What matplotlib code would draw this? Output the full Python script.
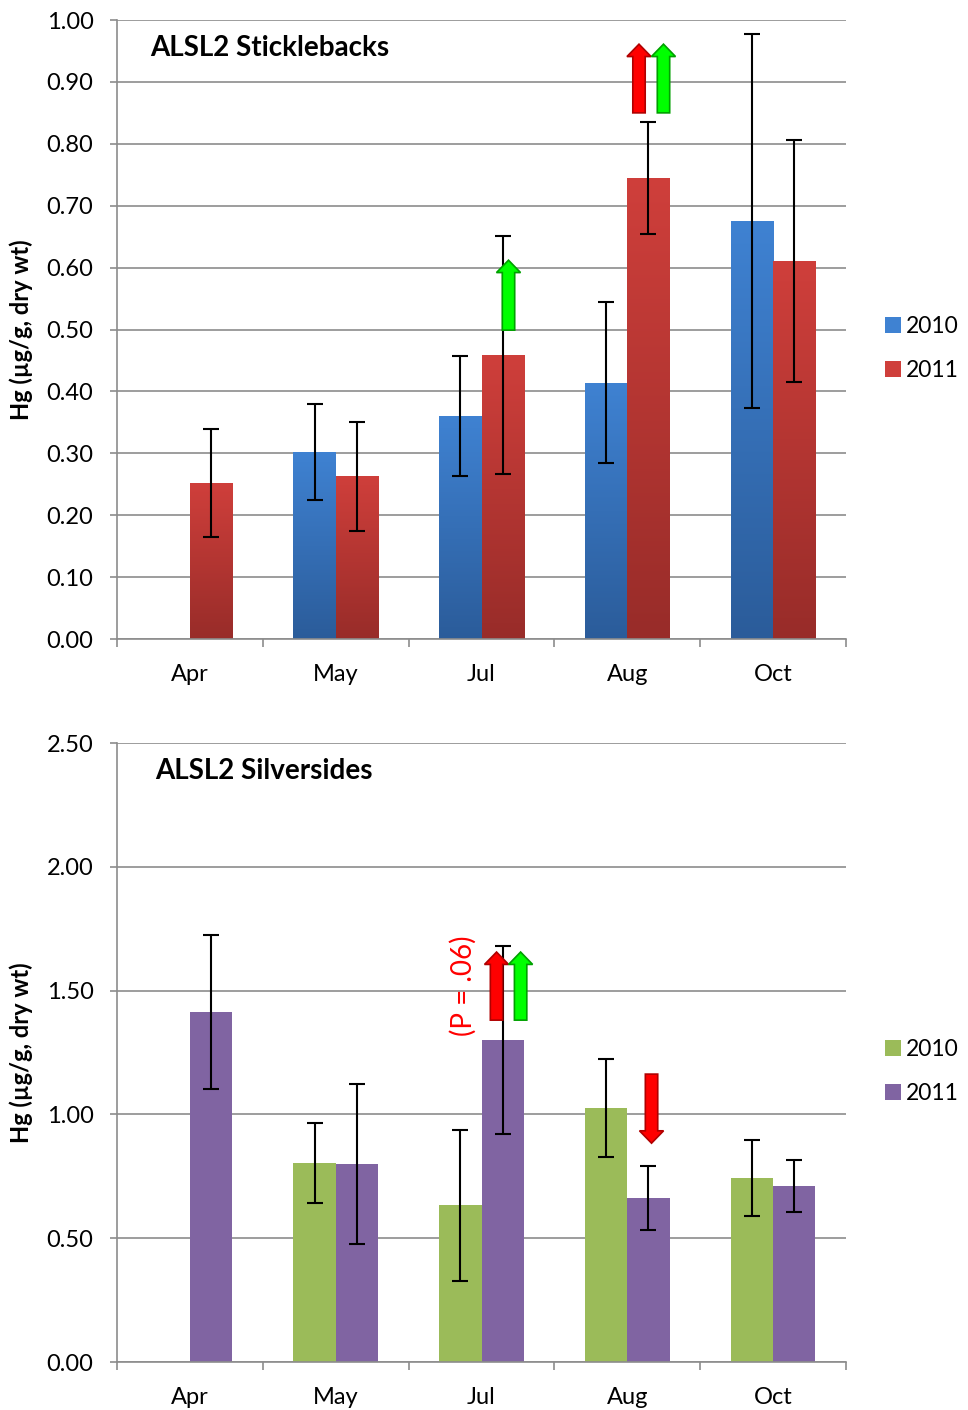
import matplotlib
matplotlib.use("Agg")
import matplotlib.pyplot as plt
import numpy as np
from matplotlib.colors import LinearSegmentedColormap
from matplotlib.patches import FancyArrow

plt.rcParams["font.family"] = ["Lato", "DejaVu Sans"]

months = ["Apr", "May", "Jul", "Aug", "Oct"]

# ALSL2 sticklebacks
stick_2010 = [0.0, 0.302, 0.360, 0.414, 0.675]
stick_2010_err = [0.0, 0.078, 0.097, 0.130, 0.302]
stick_2011 = [0.252, 0.263, 0.459, 0.745, 0.611]
stick_2011_err = [0.088, 0.088, 0.192, 0.090, 0.195]

# ALSL2 silversides
silv_2010 = [0.0, 0.804, 0.634, 1.026, 0.743]
silv_2010_err = [0.0, 0.160, 0.305, 0.196, 0.152]
silv_2011 = [1.414, 0.800, 1.300, 0.662, 0.711]
silv_2011_err = [0.310, 0.325, 0.380, 0.130, 0.105]

years = ["2010", "2011"]

W = 0.29
GRID = "#8c8c8c"
FS = 17


def gradient_bars(ax, x, h, top, bottom):
    cmap = LinearSegmentedColormap.from_list("g", [bottom, top])
    bars = ax.bar(x, h, W, color=top, linewidth=0)
    grad = np.linspace(0, 1, 256).reshape(-1, 1)
    for b in bars:
        if b.get_height() <= 0:
            continue
        x0, y0 = b.get_x(), b.get_y()
        im = ax.imshow(grad, cmap=cmap, origin="lower", aspect="auto",
                       extent=[x0, x0 + b.get_width(), y0, y0 + b.get_height()],
                       zorder=2)
        im.set_clip_path(b)
    return bars


def err(ax, x, v, e):
    xs = [a for a, b in zip(x, v) if b > 0]
    vs = [b for b in v if b > 0]
    es = [c for b, c in zip(v, e) if b > 0]
    ax.errorbar(xs, vs, yerr=es, fmt="none", ecolor="black", elinewidth=1.5,
                capsize=5.5, capthick=1.5, zorder=4)


def arrow(ax, x, y0, y1, color, edge, hl):
    ax.add_patch(FancyArrow(x, y0, 0, y1 - y0, width=0.085, head_width=0.165,
                            head_length=hl, length_includes_head=True,
                            facecolor=color, edgecolor=edge, linewidth=1.2,
                            zorder=5))


def style(ax, ymax, step, title, tx):
    ax.set_xlim(-0.5, 4.5)
    ax.set_ylim(0, ymax)
    ax.set_yticks(np.arange(0, ymax + step / 2, step))
    ax.yaxis.set_major_formatter(plt.FuncFormatter(lambda v, p: "%.2f" % v))
    ax.set_xticks(range(5))
    ax.set_xticklabels(months)
    ax.set_xticks(np.arange(-0.5, 5, 1), minor=True)
    ax.tick_params(axis="x", which="major", length=0, pad=18, labelsize=FS)
    ax.tick_params(axis="x", which="minor", length=6, color=GRID, width=1.2)
    ax.tick_params(axis="y", length=5, color=GRID, width=1.2, labelsize=FS, pad=12)
    ax.yaxis.grid(True, color=GRID, linewidth=1.2)
    ax.set_axisbelow(True)
    for s in ["top", "right"]:
        ax.spines[s].set_visible(False)
    for s in ["left", "bottom"]:
        ax.spines[s].set_color(GRID)
        ax.spines[s].set_linewidth(1.2)
    ax.set_ylabel("Hg (µg/g, dry wt)", fontsize=FS, fontweight="bold")
    ax.yaxis.set_label_coords(-0.115, 0.5)
    ax.text(tx, 0.955, title, transform=ax.transAxes, fontsize=20,
            fontweight="bold", va="center", ha="left")
    ax.legend(loc="center left", bbox_to_anchor=(1.025, 0.47), frameon=False,
              fontsize=16.5, handlelength=0.7, handleheight=0.7,
              handletextpad=0.2, labelspacing=1.0)


fig = plt.figure(figsize=(9.68, 14.1), dpi=100)
ax1 = fig.add_axes([0.1209, 0.5468, 0.7531, 0.439])
ax2 = fig.add_axes([0.1209, 0.0340, 0.7531, 0.439])

x = np.arange(5)

b1 = gradient_bars(ax1, x - W / 2, stick_2010, "#3f82d2", "#2b5c9a")
b2 = gradient_bars(ax1, x + W / 2, stick_2011, "#cf3f3b", "#982c29")
b1.set_label(years[0])
b2.set_label(years[1])
err(ax1, x - W / 2, stick_2010, stick_2010_err)
err(ax1, x + W / 2, stick_2011, stick_2011_err)
arrow(ax1, 2.185, 0.499, 0.612, "#00ff00", "#00a000", 0.02)
arrow(ax1, 3.08, 0.850, 0.961, "#ff0000", "#b00000", 0.02)
arrow(ax1, 3.248, 0.850, 0.961, "#00ff00", "#00a000", 0.02)
style(ax1, 1.0, 0.1, "ALSL2 Sticklebacks", 0.045)

ax2.bar(x - W / 2, silv_2010, W, color="#9bbb59", label=years[0])
ax2.bar(x + W / 2, silv_2011, W, color="#8064a2", label=years[1])
err(ax2, x - W / 2, silv_2010, silv_2010_err)
err(ax2, x + W / 2, silv_2011, silv_2011_err)
arrow(ax2, 2.103, 1.381, 1.656, "#ff0000", "#b00000", 0.05)
arrow(ax2, 2.268, 1.381, 1.656, "#00ff00", "#00a000", 0.05)
arrow(ax2, 3.166, 1.163, 0.884, "#ff0000", "#b00000", 0.05)
ax2.text(1.873, 1.52, "(P = .06)", rotation=90, color="red", fontsize=20,
         ha="center", va="center")
style(ax2, 2.5, 0.5, "ALSL2 Silversides", 0.052)

fig.savefig("out.png", dpi=100)
